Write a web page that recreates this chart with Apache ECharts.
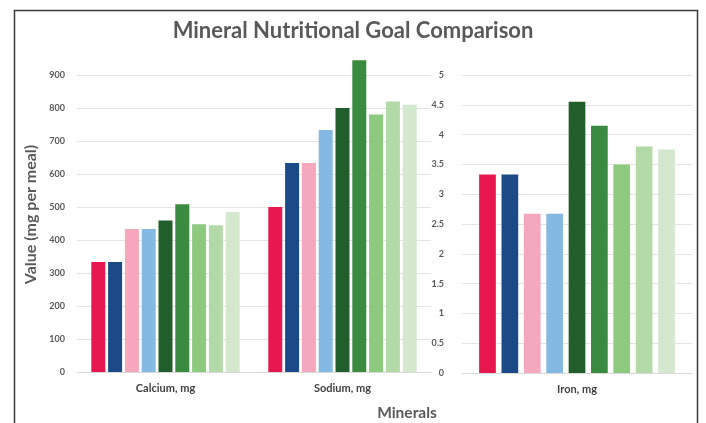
<!DOCTYPE html>
<html><head><meta charset="utf-8">
<script src="https://cdn.jsdelivr.net/npm/echarts@6/dist/echarts.min.js"></script>
<style>html,body{margin:0;padding:0;background:#fff}#c{width:706px;height:423px}</style>
</head><body><div id="c"></div>
<script>
const categoriesLeft = ['Calcium, mg', 'Sodium, mg'];
const categoriesRight = ['Iron, mg'];
const seriesNames = ['Goal 1', 'Goal 2', 'Goal 3', 'Goal 4', 'Goal 5', 'Goal 6', 'Goal 7', 'Goal 8', 'Goal 9'];
const calcium = [333, 333, 433, 433, 459, 508, 448, 445, 485];
const sodium = [500, 633, 633, 733, 800, 945, 780, 820, 810];
const iron = [3.33, 3.33, 2.67, 2.67, 4.55, 4.15, 3.5, 3.8, 3.75];
const colors = ['#E8174F', '#1B4A86', '#F4A7BD', '#84B9E3', '#225E2B', '#3A8A3F', '#8DC97F', '#B4D9A8', '#D3E8CE'];
const leftTicks = {min: 0, max: 900, interval: 100};
const rightTicks = {min: 0, max: 5, interval: 0.5};

const font = 'Lato';
const series = [];
seriesNames.forEach((n, i) => {
  series.push({name: n, type: 'bar', xAxisIndex: 0, yAxisIndex: 0, clip: false,
    data: [calcium[i], sodium[i]], barWidth: 14, barGap: '20%',
    itemStyle: {color: colors[i]}});
});
seriesNames.forEach((n, i) => {
  series.push({name: n, type: 'bar', xAxisIndex: 1, yAxisIndex: 1,
    data: [iron[i]], barWidth: 16.7, barGap: '34%',
    itemStyle: {color: colors[i]}});
});

const chart = echarts.init(document.getElementById('c'));
const catAxis = (gi, data) => ({
  type: 'category', gridIndex: gi, data: data,
  axisLine: {show: true, lineStyle: {color: '#D9D9D9'}},
  axisTick: {show: false},
  axisLabel: {color: '#404040', fontSize: 11, fontWeight: 'bold', fontFamily: font, margin: 11}
});
const valAxis = (gi, t, margin) => ({
  type: 'value', gridIndex: gi, min: t.min, max: t.max, interval: t.interval,
  axisLine: {show: false}, axisTick: {show: false},
  splitLine: {lineStyle: {color: '#E4E4E4'}},
  axisLabel: {color: '#595959', fontSize: 9, fontWeight: 'bold', fontFamily: font, margin: margin}
});
const yLeft = valAxis(0, leftTicks, 12);
yLeft.name = 'Value (mg per meal)';
yLeft.nameLocation = 'middle';
yLeft.nameGap = 32;
yLeft.nameTextStyle = {color: '#595959', fontSize: 16, fontWeight: 'bold', fontFamily: font, padding: [0, 0, 0, 18]};

chart.setOption({
  animation: false,
  backgroundColor: '#fff',
  title: [
    {text: 'Mineral Nutritional Goal Comparison', left: 'center', top: 15,
     textStyle: {color: '#595959', fontSize: 22, fontWeight: 'bold', fontFamily: font}},
    {text: 'Minerals', left: 402, top: 400, textAlign: 'center',
     textStyle: {color: '#595959', fontSize: 15.5, fontWeight: 'bold', fontFamily: font}}
  ],
  graphic: [{type: 'rect', shape: {x: 14.5, y: 10.5, width: 683, height: 430},
    style: {fill: null, stroke: '#3a3a3a', lineWidth: 1.5}, silent: true}],
  grid: [
    {left: 77, right: 275, top: 75, bottom: 51},
    {left: 462, right: 14, top: 75, bottom: 50}
  ],
  xAxis: [catAxis(0, categoriesLeft), catAxis(1, categoriesRight)],
  yAxis: [yLeft, valAxis(1, rightTicks, 18)],
  series: series
});
</script></body></html>
